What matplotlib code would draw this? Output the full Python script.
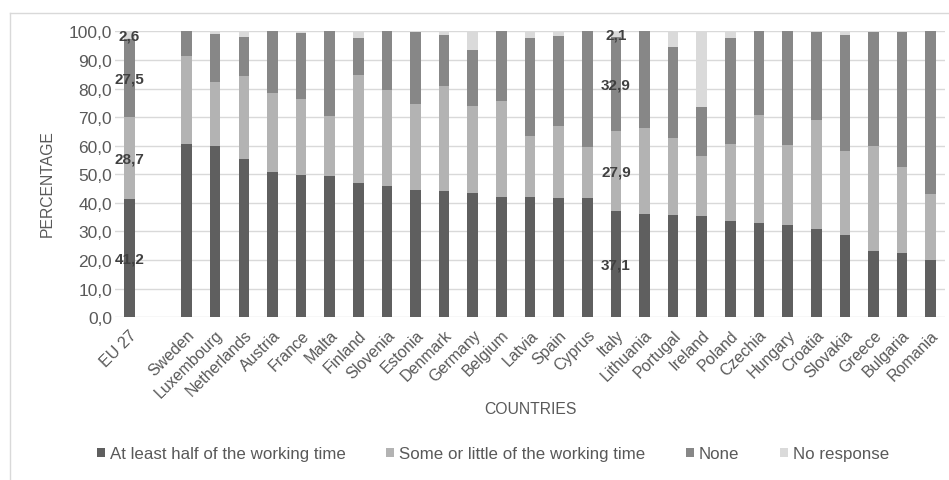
import matplotlib as mpl
import matplotlib.pyplot as plt
from matplotlib.lines import Line2D
from matplotlib.patches import Patch

mpl.rcParams["font.family"] = ["Liberation Sans", "DejaVu Sans"]

COUNTRIES = ["EU 27", "", "Sweden", "Luxembourg", "Netherlands", "Austria", "France",
             "Malta", "Finland", "Slovenia", "Estonia", "Denmark", "Germany",
             "Belgium", "Latvia", "Spain", "Cyprus", "Italy", "Lithuania",
             "Portugal", "Ireland", "Poland", "Czechia", "Hungary", "Croatia",
             "Slovakia", "Greece", "Bulgaria", "Romania"]

# segment values (percent)
HALF = [41.2, 0, 60.6, 60.0, 55.4, 50.7, 49.9, 49.3, 46.9, 45.8, 44.6, 44.2, 43.4,
        42.0, 42.0, 41.6, 41.6, 37.1, 36.1, 35.9, 35.3, 33.7, 33.1, 32.3, 30.9,
        28.8, 23.3, 22.5, 20.2]
SOME = [28.7, 0, 30.9, 22.3, 29.0, 27.7, 26.3, 21.2, 37.8, 33.8, 30.0, 36.7, 30.4,
        33.5, 21.4, 25.3, 17.8, 27.9, 30.0, 26.8, 21.2, 26.9, 37.6, 28.1, 38.0,
        29.2, 36.5, 30.2, 22.9]
NONE = [27.5, 0, 8.5, 16.9, 13.7, 21.6, 23.2, 29.5, 13.0, 20.4, 25.1, 17.9, 19.8,
        24.5, 34.3, 31.4, 40.6, 32.9, 33.9, 31.7, 17.0, 37.1, 29.3, 39.6, 30.8,
        40.8, 39.9, 47.0, 56.9]
NO_RESP = [2.6, 0, 0.0, 0.8, 1.9, 0.0, 0.6, 0.0, 2.3, 0.0, 0.3, 1.2, 6.4,
           0.0, 2.3, 1.7, 0.0, 2.1, 0.0, 5.6, 26.5, 2.3, 0.0, 0.0, 0.3,
           1.2, 0.3, 0.3, 0.0]
LABELLED = ["EU 27", "Italy"]

SERIES = ["At least half of the working time", "Some or little of the working time",
          "None", "No response"]
COLORS = ["#5f5f5f", "#b3b3b3", "#878787", "#dadada"]

TXT = "#595959"

fig = plt.figure(figsize=(9.49, 4.81), dpi=100)
ax = fig.add_axes([0.1212, 0.3383, 0.8746, 0.5945])

x = list(range(len(COUNTRIES)))
bottom = [0.0] * len(x)
for vals, col, name in zip([HALF, SOME, NONE, NO_RESP], COLORS, SERIES):
    ax.bar(x, vals, 0.37, bottom=bottom, color=col, label=name, zorder=2)
    for i, c in enumerate(COUNTRIES):
        if c in LABELLED:
            ax.text(i, bottom[i] + vals[i] / 2, f"{vals[i]:.1f}".replace(".", ","),
                    ha="center", va="center", fontsize=11, fontweight="bold",
                    color="#404040", zorder=3)
    bottom = [b + v for b, v in zip(bottom, vals)]

ax.set_xlim(-0.5, len(x) - 0.5)
ax.set_ylim(0, 100)
ax.set_yticks(range(0, 101, 10))
ax.set_yticklabels([f"{v:.1f}".replace(".", ",") for v in range(0, 101, 10)])
ax.set_xticks(x)
ax.set_xticklabels(COUNTRIES, rotation=45, ha="right", rotation_mode="anchor")
ax.tick_params(axis="both", length=0, labelcolor=TXT)
ax.tick_params(axis="y", pad=2, labelsize=12.5)
ax.tick_params(axis="x", pad=7, labelsize=11.5)
ax.grid(axis="y", color="#d9d9d9", linewidth=1, zorder=0)
for s in ax.spines.values():
    s.set_visible(False)

fig.text(47 / 949, 1 - 184 / 481, "PERCENTAGE", rotation=90, ha="center", va="center",
         fontsize=11.3, color=TXT)
fig.text(530 / 949, 1 - 410 / 481, "COUNTRIES", ha="center", va="center",
         fontsize=11.3, color=TXT)

handles = [Patch(facecolor=c, edgecolor="none") for c in COLORS]
leg = fig.legend(handles, SERIES, loc="center", bbox_to_anchor=(493 / 949, 1 - 455 / 481),
                 ncol=4, frameon=False, fontsize=12.2, handlelength=0.45,
                 handleheight=0.45, handletextpad=0.3, columnspacing=2.4)
for t in leg.get_texts():
    t.set_color(TXT)

# chart area border (partially visible)
fig.add_artist(Line2D([10 / 949, 1], [1 - 14 / 481] * 2, color="#d9d9d9", lw=1))
fig.add_artist(Line2D([10 / 949] * 2, [0, 1 - 14 / 481], color="#d9d9d9", lw=1))

fig.savefig("out.png", dpi=100)
